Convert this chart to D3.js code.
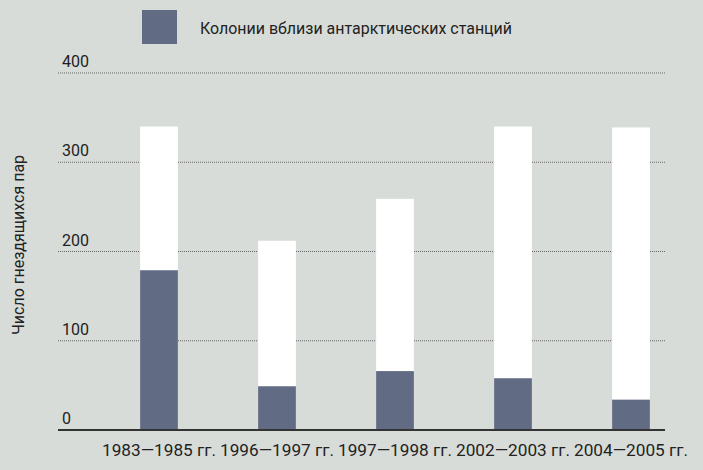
<!DOCTYPE html>
<html><head><meta charset="utf-8">
<script src="https://cdn.jsdelivr.net/npm/d3@7"></script>
<style>body{margin:0;background:#d8dcd8;}svg{display:block;font-family:Roboto,sans-serif;}</style>
</head><body><div id="chart"></div>
<script>
// data
const periods = ["1983—1985 гг.", "1996—1997 гг.", "1997—1998 гг.", "2002—2003 гг.", "2004—2005 гг."];
const totalPairs = [340, 212, 259, 340, 339];
const stationPairs = [179, 49, 66, 58, 34];
const yTicks = [0, 100, 200, 300, 400];

const W = 703, H = 470;
const svg = d3.select("#chart").append("svg").attr("width", W).attr("height", H);

const y = d3.scaleLinear().domain([0, 400]).range([430, 73]);
const x = d3.scaleBand().domain(periods).range([100, 690]).paddingInner(0.68).paddingOuter(0.34);

// gridlines
svg.selectAll(".grid").data(yTicks.filter(d => d > 0)).enter().append("line")
    .attr("x1", 58).attr("x2", 665)
    .attr("y1", d => y(d)).attr("y2", d => y(d))
    .attr("stroke", "#666").attr("stroke-width", 1).attr("stroke-dasharray", "1,1");

// bars
svg.selectAll(".total").data(periods).enter().append("rect")
    .attr("x", d => x(d)).attr("width", x.bandwidth())
    .attr("y", (d, i) => y(totalPairs[i])).attr("height", (d, i) => y(0) - y(totalPairs[i]))
    .attr("fill", "#fff");
svg.selectAll(".station").data(periods).enter().append("rect")
    .attr("x", d => x(d)).attr("width", x.bandwidth())
    .attr("y", (d, i) => y(stationPairs[i])).attr("height", (d, i) => y(0) - y(stationPairs[i]))
    .attr("fill", "#626b84");

// baseline
svg.append("line").attr("x1", 58).attr("x2", 665).attr("y1", y(0)).attr("y2", y(0))
    .attr("stroke", "#333").attr("stroke-width", 2);

// y labels
svg.selectAll(".ylab").data(yTicks).enter().append("text")
    .attr("x", 62).attr("y", d => y(d) - 6)
    .attr("font-size", 16).attr("fill", "#222").text(d => d);

// x labels
svg.selectAll(".xlab").data(periods).enter().append("text")
    .attr("x", d => x(d) + x.bandwidth() / 2).attr("y", 456)
    .attr("text-anchor", "middle").attr("font-size", 16).attr("fill", "#222")
    .attr("textLength", 114).attr("lengthAdjust", "spacingAndGlyphs").text(d => d);

// axis title
svg.append("text").attr("transform", "translate(24,245) rotate(-90)")
    .attr("text-anchor", "middle").attr("font-size", 16).attr("fill", "#222")
    .text("Число гнездящихся пар");

// legend
svg.append("rect").attr("x", 142).attr("y", 10).attr("width", 35).attr("height", 34).attr("fill", "#626b84");
svg.append("text").attr("x", 200).attr("y", 34).attr("font-size", 16).attr("fill", "#222")
    .attr("textLength", 312).attr("lengthAdjust", "spacingAndGlyphs")
    .text("Колонии вблизи антарктических станций");
</script></body></html>
